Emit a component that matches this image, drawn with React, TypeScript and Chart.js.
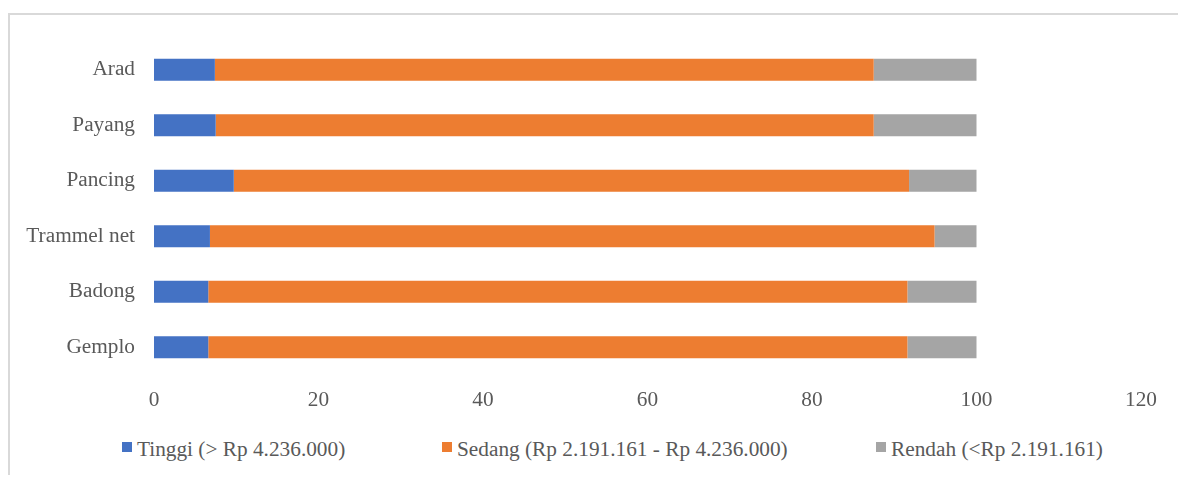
import React, { useEffect, useRef } from "react";
import { Chart, registerables } from "chart.js";

Chart.register(...registerables);

// Fishing gear types, top to bottom
const categories = ["Arad", "Payang", "Pancing", "Trammel net", "Badong", "Gemplo"];

// Share of fishermen per income class (%)
const tinggi = [7.4, 7.5, 9.7, 6.8, 6.6, 6.6];
const sedang = [80.1, 80.0, 82.1, 88.1, 85.0, 85.0];
const rendah = [12.5, 12.5, 8.2, 5.1, 8.4, 8.4];

const seriesLabels = [
  "Tinggi (> Rp 4.236.000)",
  "Sedang (Rp 2.191.161 - Rp 4.236.000)",
  "Rendah (<Rp 2.191.161)",
];
const seriesColors = ["#4472C4", "#ED7D31", "#A5A5A5"];

const xMin = 0;
const xMax = 120;
const xStep = 20;

const FONT = "'Liberation Serif', 'Times New Roman', serif";
const FONT_SIZE = 21.3;
const TEXT_COLOR = "#595959";

export default function App() {
  const canvasRef = useRef<HTMLCanvasElement | null>(null);

  useEffect(() => {
    if (!canvasRef.current) return;
    const values = [tinggi, sedang, rendah];
    const chart = new Chart(canvasRef.current, {
      type: "bar",
      data: {
        labels: categories,
        datasets: values.map((data, i) => ({
          label: seriesLabels[i],
          data,
          backgroundColor: seriesColors[i],
          borderWidth: 0,
          barPercentage: 0.4,
          categoryPercentage: 1,
        })),
      },
      options: {
        indexAxis: "y",
        responsive: false,
        animation: false,
        layout: { padding: { top: 27, right: 37, bottom: 0, left: 0 } },
        plugins: {
          legend: { display: false },
          tooltip: { enabled: false },
        },
        scales: {
          x: {
            stacked: true,
            min: xMin,
            max: xMax,
            ticks: {
              stepSize: xStep,
              color: TEXT_COLOR,
              font: { family: FONT, size: FONT_SIZE },
              padding: 13,
              maxRotation: 0,
            },
            grid: { display: false, drawTicks: false },
            border: { display: false },
            afterFit: (scale: any) => {
              scale.height = 40;
            },
          },
          y: {
            stacked: true,
            ticks: {
              color: TEXT_COLOR,
              font: { family: FONT, size: FONT_SIZE },
              padding: 19,
            },
            grid: { display: false, drawTicks: false },
            border: { display: false },
            afterFit: (scale: any) => {
              scale.width = 144;
              scale.paddingTop = 0;
              scale.paddingBottom = 0;
            },
          },
        },
      },
    });
    return () => chart.destroy();
  }, []);

  const legendLeft = [112, 432, 866];

  return (
    <div
      style={{
        position: "absolute",
        left: 8,
        top: 13,
        width: 1170,
        height: 462,
        borderTop: "2px solid #D9D9D9",
        borderLeft: "2px solid #D9D9D9",
        boxSizing: "border-box",
        background: "#fff",
      }}
    >
      <canvas
        ref={canvasRef}
        width={1168}
        height={400}
        style={{ position: "absolute", left: 0, top: 0, width: 1168, height: 400 }}
      />
      {seriesLabels.map((label, i) => (
        <div
          key={label}
          style={{
            position: "absolute",
            left: legendLeft[i],
            top: 422,
            whiteSpace: "nowrap",
            fontFamily: FONT,
            fontSize: FONT_SIZE,
            lineHeight: "24px",
            color: TEXT_COLOR,
          }}
        >
          <span
            style={{
              display: "inline-block",
              width: 10,
              height: 10,
              marginRight: 5,
              verticalAlign: "4px",
              background: seriesColors[i],
            }}
          />
          {label}
        </div>
      ))}
    </div>
  );
}
